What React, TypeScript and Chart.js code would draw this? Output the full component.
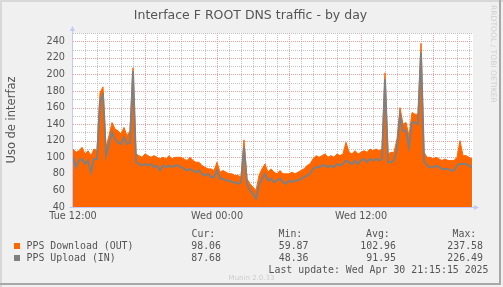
import { useEffect, useRef } from "react";
import { Chart, registerables } from "chart.js";

Chart.register(...registerables);

// ---- data (hours since Tue 12:00, 15 min steps) ----
const TITLE = "Interface F ROOT DNS traffic - by day";
const Y_LABEL = "Uso de interfaz";
const STEP_HOURS = 0.25;
const WINDOW_HOURS = 33 + 1 / 3;
const X_TICKS = [0, 12, 24];
const X_TICK_LABELS = ["Tue 12:00", "Wed 00:00", "Wed 12:00"];
const Y_MIN = 40;
const Y_MAX = 250;
const Y_TICKS = [40, 60, 80, 100, 120, 140, 160, 180, 200, 220, 240];

const DOWNLOAD = [
  110, 106, 108, 112, 104, 108, 102, 110, 108, 178,
  185, 112, 126, 142, 134, 132, 128, 136, 126, 132,
  208, 104, 102, 100, 104, 102, 100, 102, 100, 98,
  100, 98, 102, 98, 100, 100, 100, 98, 96, 100,
  96, 94, 94, 90, 88, 86, 86, 84, 94, 82,
  84, 82, 80, 80, 78, 78, 76, 121, 74, 68,
  64, 60, 78, 86, 92, 82, 86, 82, 80, 84,
  80, 80, 80, 82, 80, 82, 84, 86, 90, 92,
  98, 102, 100, 102, 104, 100, 102, 100, 104, 102,
  104, 118, 106, 104, 108, 104, 106, 108, 106, 110,
  108, 110, 108, 110, 202, 104, 106, 106, 122, 160,
  140, 142, 126, 154, 152, 152, 237.58, 106, 100, 100,
  98, 100, 98, 96, 98, 96, 96, 96, 100, 120,
  102, 102, 100, 98.06,
];

const UPLOAD = [
  100, 88, 96, 98, 92, 96, 82, 98, 98, 168,
  175, 102, 116, 130, 122, 118, 116, 124, 116, 118,
  204, 94, 92, 90, 92, 90, 92, 88, 90, 84,
  90, 88, 90, 88, 90, 90, 88, 86, 84, 86,
  84, 82, 84, 80, 78, 80, 76, 76, 84, 74,
  74, 72, 72, 70, 70, 68, 70, 112, 68, 60,
  56, 50, 66, 74, 80, 72, 74, 70, 72, 74,
  70, 68, 72, 70, 72, 72, 74, 76, 78, 80,
  86, 88, 88, 90, 90, 88, 90, 88, 92, 90,
  92, 96, 94, 92, 96, 92, 96, 98, 94, 98,
  96, 98, 96, 98, 194, 94, 94, 96, 110, 150,
  132, 132, 112, 142, 142, 140, 226.49, 96, 90, 88,
  88, 90, 88, 86, 86, 86, 84, 84, 90, 92,
  92, 92, 90, 87.68,
];

const SERIES_NAMES = ["PPS Download (OUT)", "PPS Upload (IN)"];
const CUR = ["98.06", "87.68"];
const MIN = ["59.87", "48.36"];
const AVG = ["102.96", "91.95"];
const MAX = ["237.58", "226.49"];
const LAST_UPDATE = "Last update: Wed Apr 30 21:15:15 2025";
const FOOTER = "Munin 2.0.33";
const WATERMARK = "RRDTOOL / TOBI OETIKER";

const ORANGE = "#ff6600";
const GRAY = "#808080";
const TEXT = "#555555";
const AXIS = "#c4c8f4";
const MINOR = "rgba(185,185,185,0.85)";
const MAJOR = "rgba(235,130,130,0.75)";

const W = 503;
const H = 287;
const SANS = "'DejaVu Sans', sans-serif";
const MONO = "'DejaVu Sans Mono', monospace";

const munin = {
  id: "muninFrame",
  beforeDraw(chart: any) {
    const { ctx, chartArea: a } = chart;
    ctx.save();
    ctx.fillStyle = "#f0f0f0";
    ctx.fillRect(0, 0, W, H);
    ctx.fillStyle = "#d8d8d8";
    ctx.fillRect(0, 0, W, 2);
    ctx.fillRect(0, 0, 2, H);
    ctx.fillStyle = "#a8a8a8";
    ctx.fillRect(0, H - 4, W - 2, 2);
    ctx.fillRect(W - 4, 0, 2, H - 2);
    ctx.fillStyle = "#ffffff";
    ctx.fillRect(a.left, a.top, a.right - a.left, a.bottom - a.top);
    ctx.restore();
  },
  beforeDatasetsDraw(chart: any) {
    const { ctx, chartArea: a, scales } = chart;
    const xs = scales.x;
    const ys = scales.y;
    ctx.save();
    ctx.lineWidth = 1;
    ctx.setLineDash([1, 1]);
    const drawV = (h: number, color: string) => {
      const x = Math.round(xs.getPixelForValue(h)) + 0.5;
      ctx.strokeStyle = color;
      ctx.beginPath();
      ctx.moveTo(x, a.top);
      ctx.lineTo(x, a.bottom);
      ctx.stroke();
    };
    const drawH = (v: number, color: string) => {
      const y = Math.round(ys.getPixelForValue(v)) + 0.5;
      ctx.strokeStyle = color;
      ctx.beginPath();
      ctx.moveTo(a.left, y);
      ctx.lineTo(a.right, y);
      ctx.stroke();
    };
    for (let h = 1; h <= Math.floor(WINDOW_HOURS); h++) if (h % 6 !== 0) drawV(h, MINOR);
    for (let v = Y_MIN + 10; v <= Y_MAX; v += 10) if (v % 20 !== 0) drawH(v, MINOR);
    for (let h = 6; h <= Math.floor(WINDOW_HOURS); h += 6) drawV(h, MAJOR);
    for (let v = Y_MIN + 20; v <= Y_MAX; v += 20) drawH(v, MAJOR);
    ctx.restore();
  },
  afterDatasetsDraw(chart: any) {
    const { ctx, chartArea: a } = chart;
    ctx.save();
    ctx.strokeStyle = AXIS;
    ctx.fillStyle = AXIS;
    ctx.lineWidth = 1;
    ctx.setLineDash([]);
    const ax = a.left - 0.5;
    const ay = a.bottom + 0.5;
    ctx.beginPath();
    ctx.moveTo(ax, ay);
    ctx.lineTo(ax, a.top - 3);
    ctx.moveTo(ax - 3, ay);
    ctx.lineTo(a.right + 2, ay);
    ctx.stroke();
    ctx.beginPath();
    ctx.moveTo(ax - 2.5, a.top - 2);
    ctx.lineTo(ax + 2.5, a.top - 2);
    ctx.lineTo(ax, a.top - 7);
    ctx.closePath();
    ctx.fill();
    ctx.beginPath();
    ctx.moveTo(a.right + 1, ay - 2.5);
    ctx.lineTo(a.right + 1, ay + 2.5);
    ctx.lineTo(a.right + 6, ay);
    ctx.closePath();
    ctx.fill();
    ctx.restore();
  },
  afterDraw(chart: any) {
    const { ctx, chartArea: a } = chart;
    ctx.save();
    ctx.fillStyle = TEXT;
    ctx.textBaseline = "alphabetic";
    // title
    ctx.font = `12.5px ${SANS}`;
    ctx.textAlign = "center";
    ctx.fillText(TITLE, 250.5, 18.5);
    // y axis label
    ctx.save();
    ctx.font = `11.5px ${SANS}`;
    ctx.translate(15, (a.top + a.bottom) / 2);
    ctx.rotate(-Math.PI / 2);
    ctx.textAlign = "center";
    ctx.fillText(Y_LABEL, 0, 0);
    ctx.restore();
    // watermark
    ctx.save();
    ctx.fillStyle = "#cfcfcf";
    ctx.font = `7.6px ${SANS}`;
    ctx.translate(490.5, 5);
    ctx.rotate(Math.PI / 2);
    ctx.textAlign = "left";
    ctx.fillText(WATERMARK, 0, 0);
    ctx.restore();
    // legend
    ctx.font = `9.9px ${MONO}`;
    ctx.textAlign = "left";
    ctx.fillText("Cur:", 191.5, 236.5);
    ctx.fillText("Min:", 278.5, 236.5);
    ctx.fillText("Avg:", 366, 236.5);
    ctx.fillText("Max:", 452.5, 236.5);
    const colors = [ORANGE, GRAY];
    for (let i = 0; i < SERIES_NAMES.length; i++) {
      const base = 248.5 + i * 12;
      ctx.fillStyle = colors[i];
      ctx.fillRect(14, base - 5.5, 6, 6);
      ctx.fillStyle = TEXT;
      ctx.textAlign = "left";
      ctx.fillText(SERIES_NAMES[i], 26.5, base);
      ctx.textAlign = "right";
      ctx.fillText(CUR[i], 221, base);
      ctx.fillText(MIN[i], 308.5, base);
      ctx.fillText(AVG[i], 396, base);
      ctx.fillText(MAX[i], 483, base);
    }
    ctx.textAlign = "right";
    ctx.fillText(LAST_UPDATE, 488.5, 272.5);
    ctx.fillStyle = "#cccccc";
    ctx.font = `7px ${SANS}`;
    ctx.textAlign = "center";
    ctx.fillText(FOOTER, 251.5, 279.5);
    ctx.restore();
  },
};

export default function App() {
  const ref = useRef<HTMLCanvasElement | null>(null);
  useEffect(() => {
    if (!ref.current) return;
    const times = DOWNLOAD.map((_, i) => i * STEP_HOURS);
    const chart = new Chart(ref.current, {
      type: "line",
      data: {
        datasets: [
          {
            label: SERIES_NAMES[1],
            data: times.map((t, i) => ({ x: t, y: UPLOAD[i] })),
            borderColor: GRAY,
            borderWidth: 2,
            pointRadius: 0,
            fill: false,
            tension: 0,
            order: 0,
          },
          {
            label: SERIES_NAMES[0],
            data: times.map((t, i) => ({ x: t, y: DOWNLOAD[i] })),
            borderColor: ORANGE,
            backgroundColor: ORANGE,
            borderWidth: 1,
            pointRadius: 0,
            fill: "start",
            tension: 0,
            order: 1,
          },
        ],
      },
      options: {
        responsive: false,
        animation: false,
        events: [],
        layout: { padding: { left: 0, top: 33, right: 30, bottom: 0 } },
        plugins: {
          legend: { display: false },
          tooltip: { enabled: false },
          title: { display: false },
        },
        scales: {
          x: {
            type: "linear",
            min: 0,
            max: WINDOW_HOURS,
            grid: { display: false, drawTicks: false },
            border: { display: false },
            ticks: {
              font: { family: SANS, size: 9.7 },
              color: TEXT,
              padding: 4,
              maxRotation: 0,
              autoSkip: false,
              callback: (v: any) => {
                const k = X_TICKS.indexOf(Number(v));
                return k >= 0 ? X_TICK_LABELS[k] : "";
              },
            },
            afterBuildTicks: (s: any) => {
              s.ticks = X_TICKS.map((v) => ({ value: v }));
            },
            afterFit: (s: any) => {
              s.height = 80;
            },
          },
          y: {
            type: "linear",
            min: Y_MIN,
            max: Y_MAX,
            grid: { display: false, drawTicks: false },
            border: { display: false },
            ticks: {
              font: { family: SANS, size: 9.7 },
              color: TEXT,
              padding: 8,
              autoSkip: false,
              callback: (v: any) => String(v),
            },
            afterBuildTicks: (s: any) => {
              s.ticks = Y_TICKS.map((v) => ({ value: v }));
            },
            afterFit: (s: any) => {
              s.width = 73;
            },
          },
        },
      },
      plugins: [munin],
    } as any);
    return () => chart.destroy();
  }, []);
  return (
    <div style={{ position: "fixed", left: 0, top: 0, width: W, height: H }}>
      <canvas ref={ref} width={W} height={H} style={{ display: "block", width: W, height: H }} />
    </div>
  );
}
